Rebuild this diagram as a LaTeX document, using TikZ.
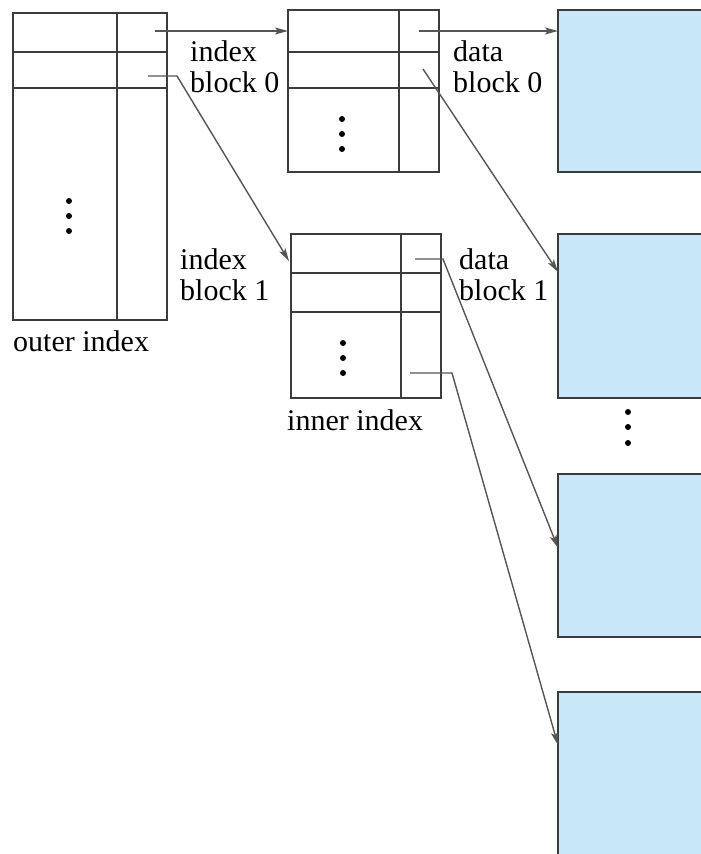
\documentclass[tikz,border=0pt]{standalone}
\usepackage{fontspec}
\setmainfont{Liberation Serif}
\usetikzlibrary{arrows.meta}
\definecolor{blockblue}{RGB}{200,232,250}
\definecolor{linegray}{RGB}{60,60,60}
\definecolor{ptrgray}{RGB}{85,85,85}
\begin{document}
\begin{tikzpicture}[x=1pt,y=-1pt,
  tbl/.style={draw=linegray,line width=1.5pt,inner sep=0pt,outer sep=0pt,anchor=north west},
  datablk/.style={draw=linegray,fill=blockblue,line width=1.5pt,inner sep=0pt,outer sep=0pt,anchor=north west},
  rule/.style={draw=linegray,line width=1.5pt},
  ptr/.style={draw=ptrgray,line width=1.4pt,-{Stealth[length=13pt,width=7pt,inset=3pt]}},
  lbl/.style={font=\fontsize{30}{31}\selectfont,inner sep=0pt,align=left,anchor=base west},
  vdot/.style={fill=black,circle,inner sep=0pt,minimum size=6pt}]
\useasboundingbox (0,0) rectangle (701,854);
\begin{scope}
\clip (0,0) rectangle (701,854);
% outer index
\node[tbl,minimum width=154pt,minimum height=307pt] (outer) at (13,13) {};
\draw[rule] (117,13) -- (117,320);
\draw[rule] (13,52) -- (167,52);
\draw[rule] (13,88) -- (167,88);
\node[vdot] (od1) at (69,201) {};
\node[vdot] (od2) at (69,216) {};
\node[vdot] (od3) at (69,231) {};
\node[lbl] (outerlbl) at (13,351) {outer index};
% index block 0
\node[tbl,minimum width=151pt,minimum height=162pt] (ib0) at (288,10) {};
\draw[rule] (399,10) -- (399,172);
\draw[rule] (288,52) -- (439,52);
\draw[rule] (288,88) -- (439,88);
\node[vdot] (ad1) at (342,119) {};
\node[vdot] (ad2) at (342,134) {};
\node[vdot] (ad3) at (342,149) {};
% index block 1
\node[tbl,minimum width=150pt,minimum height=164pt] (ib1) at (291,234) {};
\draw[rule] (401,234) -- (401,398);
\draw[rule] (291,273) -- (441,273);
\draw[rule] (291,312) -- (441,312);
\node[vdot] (bd1) at (343,343) {};
\node[vdot] (bd2) at (343,358) {};
\node[vdot] (bd3) at (343,373) {};
\node[lbl] (innerlbl) at (287,430) {inner index};
% data blocks
\node[datablk,minimum width=160pt,minimum height=162pt] (db0) at (558,10) {};
\node[datablk,minimum width=160pt,minimum height=164pt] (db1) at (558,234) {};
\node[datablk,minimum width=160pt,minimum height=163pt] (db2) at (558,474) {};
\node[datablk,minimum width=160pt,minimum height=220pt] (db3) at (558,692) {};
\node[vdot] (dd1) at (628,412) {};
\node[vdot] (dd2) at (628,427) {};
\node[vdot] (dd3) at (628,443) {};
% labels (base anchor = baseline of last line)
\node[lbl] (l1) at (190,92) {index\\block 0};
\node[lbl] (l2) at (453,92) {data\\block 0};
\node[lbl] (l3) at (180,300) {index\\block 1};
\node[lbl] (l4) at (459,300) {data\\block 1};
% pointer coordinates
\coordinate (p1) at (155,31);
\coordinate (p2) at (148,76);
\coordinate (p2b) at (177,76);
\coordinate (t2) at (289,261);
\coordinate (p3) at (419,31);
\coordinate (p4) at (423,69);
\coordinate (t4) at (558,272);
\coordinate (p5) at (415,259);
\coordinate (p5b) at (443,259);
\coordinate (t5) at (558,548);
\coordinate (p6) at (410,373);
\coordinate (p6b) at (452,373);
\coordinate (t6) at (558,745);
% pointers
\draw[ptr] (p1) -- (ib0.west |- p1);
\draw[ptr] (p2) -- (p2b) -- (t2);
\draw[ptr] (p3) -- (db0.west |- p3);
\draw[ptr] (p4) -- (t4);
\draw[ptr] (p5) -- (p5b) -- (t5);
\draw[ptr] (p6) -- (p6b) -- (t6);
\end{scope}
\end{tikzpicture}
\end{document}
